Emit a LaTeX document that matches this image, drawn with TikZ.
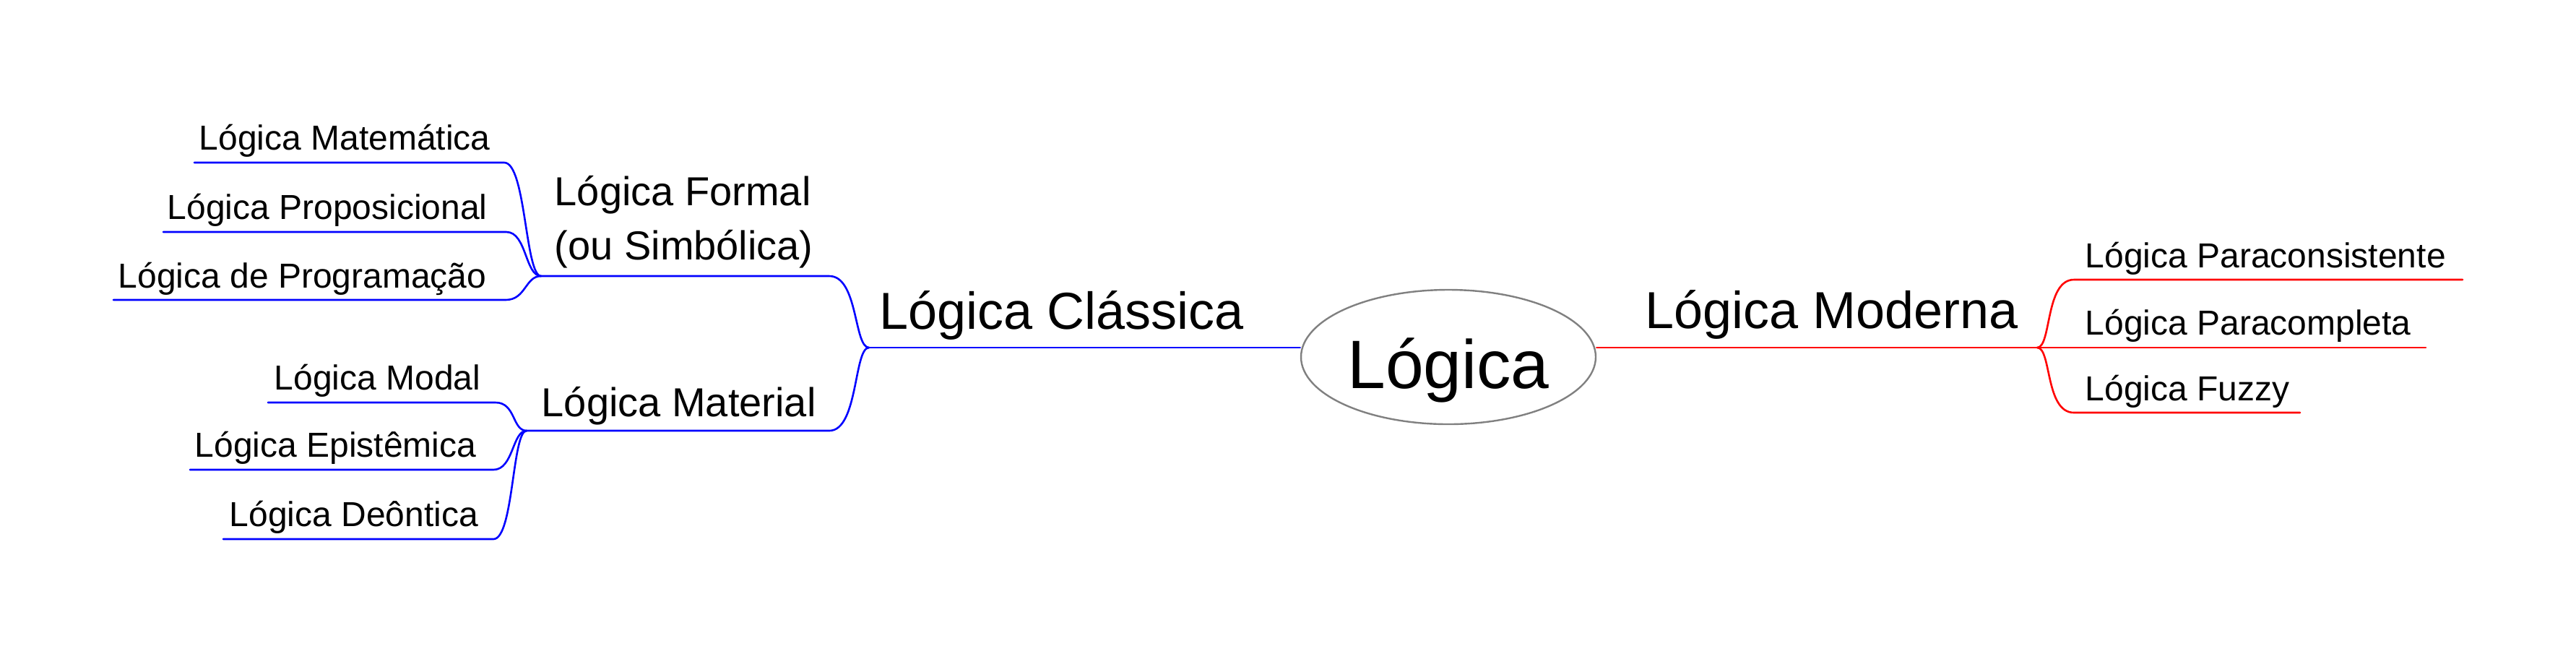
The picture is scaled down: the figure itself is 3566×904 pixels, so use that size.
\documentclass[tikz,border=0pt]{standalone}
\usepackage{fontspec}
\setmainfont{Liberation Sans}
\usetikzlibrary{shapes.geometric,calc}
\definecolor{bblue}{HTML}{0000FF}
\definecolor{rred}{HTML}{FF0000}
\definecolor{egrey}{HTML}{808080}
\tikzset{
  leaf/.style={anchor=base west,inner sep=0pt,font=\fontsize{12}{14.4}\selectfont},
  mid/.style={anchor=base west,inner sep=0pt,font=\fontsize{14}{18.75}\selectfont},
  top/.style={anchor=base west,inner sep=0pt,font=\fontsize{18}{21.6}\selectfont},
  bline/.style={draw=bblue,line width=0.65pt,line cap=round},
  rline/.style={draw=rred,line width=0.65pt,line cap=round},
}
\begin{document}
\begin{tikzpicture}[x=0.25pt,y=-0.25pt]
\path[use as bounding box] (0,0) rectangle (3566,904);
% central node
\node[ellipse,draw=egrey,line width=0.6pt,minimum width=102pt,minimum height=46.5pt,
      inner sep=0pt,text height=26.5pt,text depth=5pt,
      font=\fontsize{23.7}{28}\selectfont] (L) at (2005,494) {Lógica};
% junctions
\coordinate (JC) at (1203,481);
\coordinate (JR) at (2820,481);
\coordinate (JF) at (749,382);
\coordinate (JM) at (729,596);
\coordinate (fE) at (1148,382);
\coordinate (mE) at (1148,596);
% main branches
\node[top] (C) at (1217,455) {Lógica Clássica};
\node[top] (M) at (2277,454) {Lógica Moderna};
\draw[bline] (L.west |- JC) -- (JC);
\draw[rline] (L.east |- JR) -- (JR);
% second level
\node[mid,align=left] (F) at (767,359) {Lógica Formal\\(ou Simbólica)};
\node[mid] (Ma) at (749,576) {Lógica Material};
\draw[bline] (JF) -- (fE) .. controls +(40,0) and +(-21,0) .. (JC);
\draw[bline] (JM) -- (mE) .. controls +(40,0) and +(-21,0) .. (JC);
% formal children
\node[leaf] (a1) at (275,207) {Lógica Matemática};
\node[leaf] (a2) at (231,303) {Lógica Proposicional};
\node[leaf] (a3) at (163,398) {Lógica de Programação};
\coordinate (a1o) at (269,225); \coordinate (a1i) at (698,225);
\coordinate (a2o) at (226,321); \coordinate (a2i) at (701,321);
\coordinate (a3o) at (157,415); \coordinate (a3i) at (700,415);
\draw[bline] (a1o) -- (a1i) .. controls +(30,0) and +(-22,0) .. (JF);
\draw[bline] (a2o) -- (a2i) .. controls +(28,0) and +(-22,0) .. (JF);
\draw[bline] (a3o) -- (a3i) .. controls +(28,0) and +(-22,0) .. (JF);
% material children
\node[leaf] (b1) at (379,539) {Lógica Modal};
\node[leaf] (b2) at (269,632) {Lógica Epistêmica};
\node[leaf] (b3) at (317,728) {Lógica Deôntica};
\coordinate (b1o) at (371,557); \coordinate (b1i) at (686,557);
\coordinate (b2o) at (263,650); \coordinate (b2i) at (683,650);
\coordinate (b3o) at (309,746); \coordinate (b3i) at (683,746);
\draw[bline] (b1o) -- (b1i) .. controls +(28,0) and +(-20,0) .. (JM);
\draw[bline] (b2o) -- (b2i) .. controls +(28,0) and +(-20,0) .. (JM);
\draw[bline] (b3o) -- (b3i) .. controls +(28,0) and +(-20,0) .. (JM);
% moderna children
\node[leaf] (c1) at (2886,370) {Lógica Paraconsistente};
\node[leaf] (c2) at (2886,463) {Lógica Paracompleta};
\node[leaf] (c3) at (2886,554) {Lógica Fuzzy};
\coordinate (c1i) at (2871,387); \coordinate (c1o) at (3409,387);
\coordinate (c2o) at (3358,481);
\coordinate (c3i) at (2871,571); \coordinate (c3o) at (3184,571);
\draw[rline] (JR) .. controls +(20,0) and +(-40,0) .. (c1i) -- (c1o);
\draw[rline] (JR) -- (c2o);
\draw[rline] (JR) .. controls +(20,0) and +(-40,0) .. (c3i) -- (c3o);
\end{tikzpicture}
\end{document}
